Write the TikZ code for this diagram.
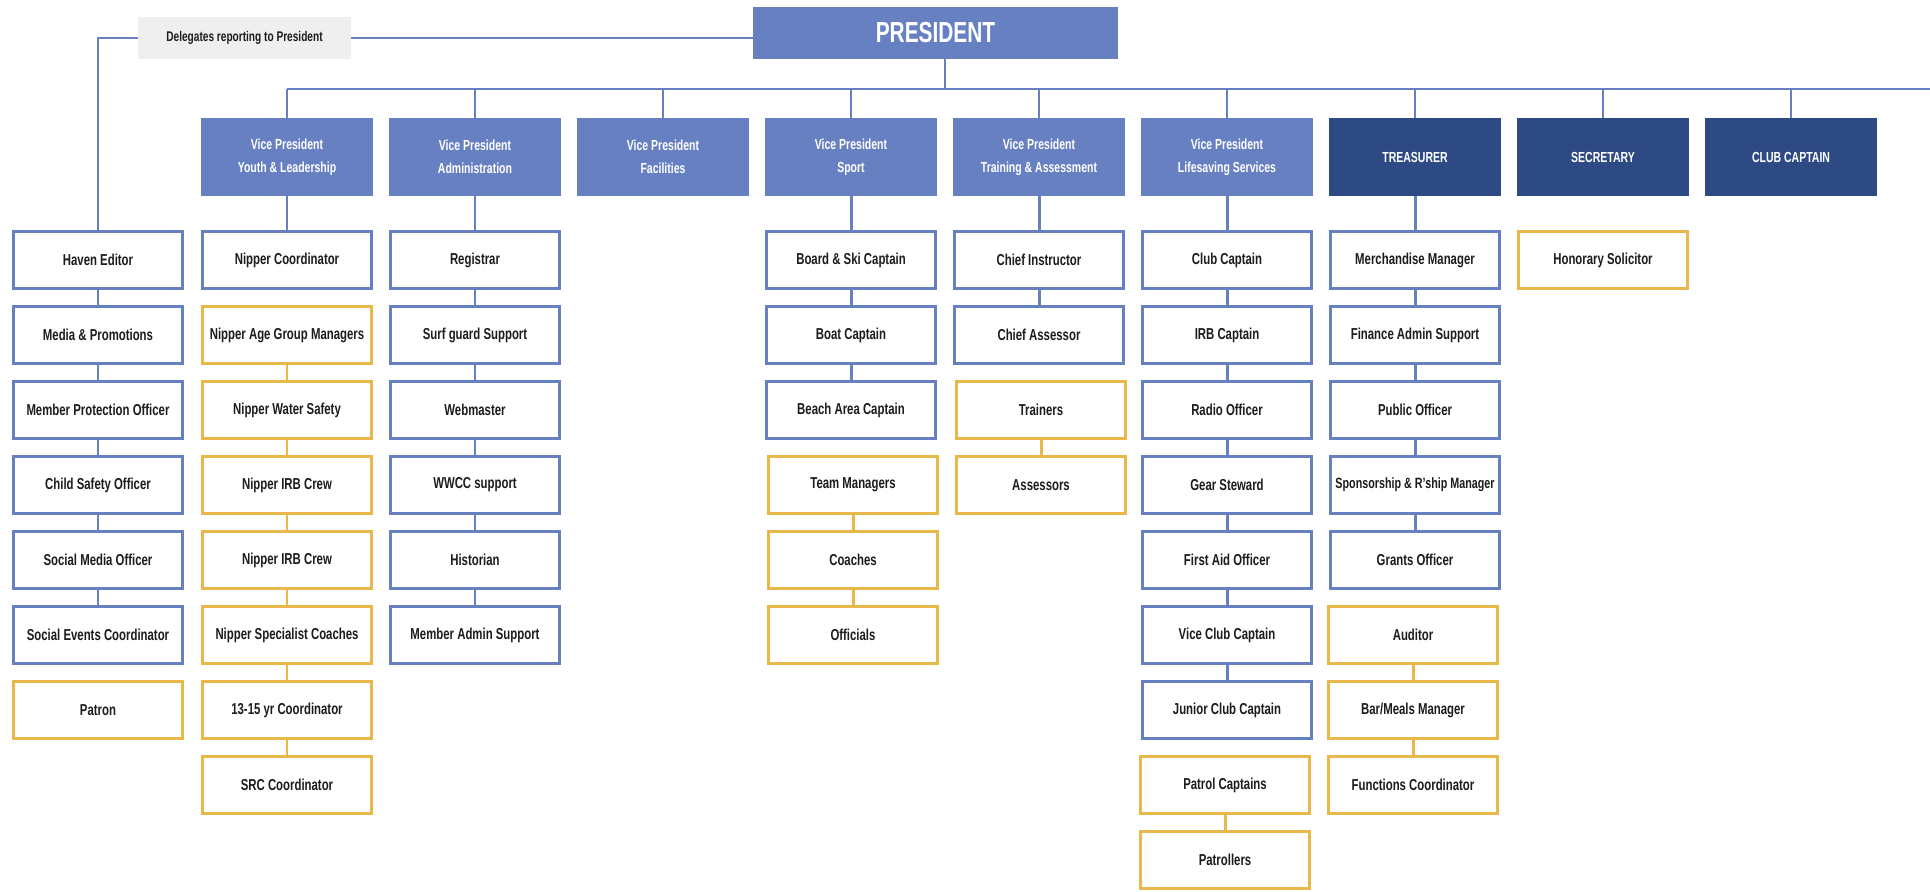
\documentclass[tikz,border=0pt]{standalone}
\usepackage{fontspec}
\setmainfont{Liberation Sans}[FakeStretch=0.72]
\definecolor{vpblue}{HTML}{6780C2}
\definecolor{navy}{HTML}{2E4A84}
\definecolor{gold}{HTML}{E8B84A}
\definecolor{delgray}{HTML}{EFEFEF}
\definecolor{ink}{HTML}{1C1C1C}

\begin{document}
\begin{tikzpicture}[x=0.02cm,y=-0.02cm,
    role/.style={draw,line width=1.7pt,fill=white,minimum width=3.38cm,minimum height=1.14cm,
      inner sep=0pt,text=ink,font=\bfseries\fontsize{9}{10}\selectfont},
    bluerole/.style={role,draw=vpblue},
    goldrole/.style={role,draw=gold},
    vp/.style={fill=vpblue,minimum width=3.44cm,minimum height=1.56cm,inner sep=0pt,
      align=center,text=white,font=\bfseries\fontsize{8.3}{13}\selectfont},
    officer/.style={vp,fill=navy},
    bluelink/.style={draw=vpblue,line width=1.7pt},
    goldlink/.style={draw=gold,line width=1.7pt},
    barlink/.style={draw=vpblue,line width=1.2pt}]

    \useasboundingbox (0,0) rectangle (1930,892);

    % President and delegates
    \node[fill=vpblue,minimum width=7.3cm,minimum height=1.04cm,inner sep=0pt,text=white,
      font=\bfseries\fontsize{16.5}{20}\selectfont] (pres) at (935.5,33) {PRESIDENT};
    \node[fill=delgray,minimum width=4.26cm,minimum height=0.84cm,inner sep=0pt,text=ink,
      font=\bfseries\fontsize{8}{10}\selectfont] (deleg) at (244.5,38) {Delegates reporting to President};

    % Bar to the vice presidents
    \coordinate (barleft) at (287,89);
    \coordinate (barright) at (1930,89);
    \coordinate (presfoot) at (945,89);
    \draw[barlink] (barleft) -- (barright);
    \draw[barlink] (pres.south -| presfoot) -- (presfoot);

    % Vice presidents and office bearers
    \node[vp] (vpyouth) at (287,157) {Vice President\\Youth \& Leadership};
    \node[vp] (vpadmin) at (475,157) {Vice President\\Administration};
    \node[vp] (vpfac) at (663,157) {Vice President\\Facilities};
    \node[vp] (vpsport) at (851,157) {Vice President\\Sport};
    \node[vp] (vptrain) at (1039,157) {Vice President\\Training \& Assessment};
    \node[vp] (vplife) at (1227,157) {Vice President\\Lifesaving Services};
    \node[officer] (treas) at (1415,157) {TREASURER};
    \node[officer] (secr) at (1603,157) {SECRETARY};
    \node[officer] (capt) at (1791,157) {CLUB CAPTAIN};
    \foreach \n in {vpyouth,vpadmin,vpfac,vpsport,vptrain,vplife,treas,secr,capt}
      \draw[barlink] (\n.north) -- (\n.north |- barleft);

    % Delegates column
    \foreach \lbl [count=\r] in {Haven Editor,Media \& Promotions,Member Protection Officer,
        Child Safety Officer,Social Media Officer,Social Events Coordinator}
      \node[bluerole] (del\r) at (98,{260+75*(\r-1)}) {\lbl};
    \node[goldrole] (del7) at (98,710) {Patron};
    \draw[barlink] (deleg.east) -- (deleg.east -| pres.west);
    \draw[bluelink] (deleg.west) -| (del1.north);
    \foreach \r [evaluate=\r as \s using int(\r+1)] in {1,...,5}
      \draw[bluelink] (del\r.south) -- (del\s.north);

    % Youth & Leadership
    \node[bluerole] (yth1) at (287,260) {Nipper Coordinator};
    \foreach \lbl [count=\r from 2] in {Nipper Age Group Managers,Nipper Water Safety,
        Nipper IRB Crew,Nipper IRB Crew,Nipper Specialist Coaches,13-15 yr Coordinator,SRC Coordinator}
      \node[goldrole] (yth\r) at (287,{260+75*(\r-1)}) {\lbl};
    \draw[bluelink] (vpyouth.south) -- (yth1.north);
    \foreach \r [evaluate=\r as \s using int(\r+1)] in {2,...,7}
      \draw[goldlink] (yth\r.south) -- (yth\s.north);

    % Administration
    \foreach \lbl [count=\r] in {Registrar,Surf guard Support,Webmaster,WWCC support,
        Historian,Member Admin Support}
      \node[bluerole] (adm\r) at (475,{260+75*(\r-1)}) {\lbl};
    \draw[bluelink] (vpadmin.south) -- (adm1.north);
    \foreach \r [evaluate=\r as \s using int(\r+1)] in {1,...,5}
      \draw[bluelink] (adm\r.south) -- (adm\s.north);

    % Sport
    \foreach \lbl [count=\r] in {Board \& Ski Captain,Boat Captain,Beach Area Captain}
      \node[bluerole] (spt\r) at (851,{260+75*(\r-1)}) {\lbl};
    \foreach \lbl [count=\r from 4] in {Team Managers,Coaches,Officials}
      \node[goldrole] (spt\r) at (853,{260+75*(\r-1)}) {\lbl};
    \draw[bluelink] (vpsport.south) -- (spt1.north);
    \draw[bluelink] (spt1.south) -- (spt2.north);
    \draw[bluelink] (spt2.south) -- (spt3.north);
    \draw[goldlink] (spt4.south) -- (spt5.north);
    \draw[goldlink] (spt5.south) -- (spt6.north);

    % Training & Assessment
    \node[bluerole] (trn1) at (1039,260) {Chief Instructor};
    \node[bluerole] (trn2) at (1039,335) {Chief Assessor};
    \node[goldrole] (trn3) at (1041,410) {Trainers};
    \node[goldrole] (trn4) at (1041,485) {Assessors};
    \draw[bluelink] (vptrain.south) -- (trn1.north);
    \draw[bluelink] (trn1.south) -- (trn2.north);
    \draw[goldlink] (trn3.south) -- (trn4.north);

    % Lifesaving Services
    \foreach \lbl [count=\r] in {Club Captain,IRB Captain,Radio Officer,Gear Steward,
        First Aid Officer,Vice Club Captain,Junior Club Captain}
      \node[bluerole] (lsv\r) at (1227,{260+75*(\r-1)}) {\lbl};
    \node[goldrole] (lsv8) at (1225,785) {Patrol Captains};
    \node[goldrole] (lsv9) at (1225,860) {Patrollers};
    \draw[bluelink] (vplife.south) -- (lsv1.north);
    \foreach \r [evaluate=\r as \s using int(\r+1)] in {1,...,6}
      \draw[bluelink] (lsv\r.south) -- (lsv\s.north);
    \draw[goldlink] (lsv8.south) -- (lsv9.north);

    % Treasurer
    \foreach \lbl [count=\r] in {Merchandise Manager,Finance Admin Support,Public Officer}
      \node[bluerole] (trs\r) at (1415,{260+75*(\r-1)}) {\lbl};
    \node[bluerole,font=\bfseries\fontsize{8.5}{10}\selectfont] (trs4) at (1415,485)
      {Sponsorship \& R'ship Manager};
    \node[bluerole] (trs5) at (1415,560) {Grants Officer};
    \foreach \lbl [count=\r from 6] in {Auditor,Bar/Meals Manager,Functions Coordinator}
      \node[goldrole] (trs\r) at (1413,{260+75*(\r-1)}) {\lbl};
    \draw[bluelink] (treas.south) -- (trs1.north);
    \foreach \r [evaluate=\r as \s using int(\r+1)] in {1,...,4}
      \draw[bluelink] (trs\r.south) -- (trs\s.north);
    \draw[goldlink] (trs6.south) -- (trs7.north);
    \draw[goldlink] (trs7.south) -- (trs8.north);

    % Secretary
    \node[goldrole] (sec1) at (1603,260) {Honorary Solicitor};
  \end{tikzpicture}
\end{document}
